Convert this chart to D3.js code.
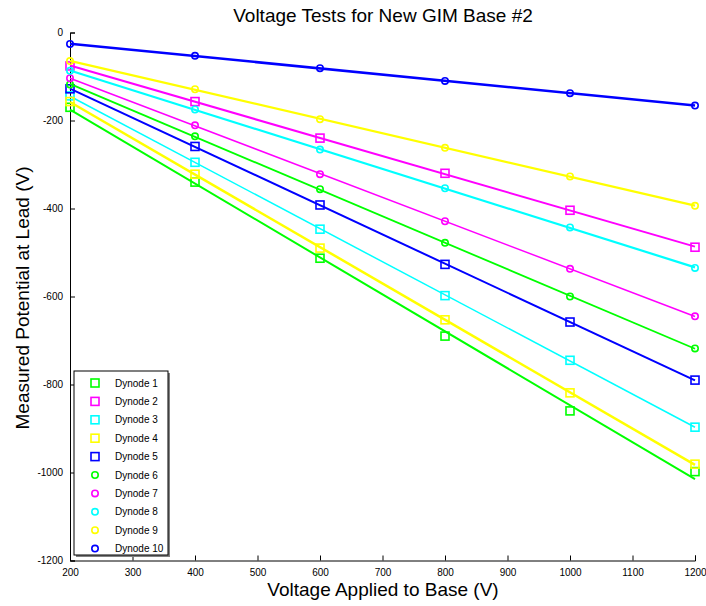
<!DOCTYPE html>
<html>
<head>
<meta charset="utf-8">
<script src="https://cdn.jsdelivr.net/npm/d3@7"></script>
<style>
  html, body { margin: 0; padding: 0; background: #fff; }
  svg { display: block; font-family: "Liberation Sans", Arial, sans-serif; }
</style>
</head>
<body>
<svg id="chart" width="706" height="606"></svg>
<script>
// Base voltages applied (V)
const baseVoltages = [200, 400, 600, 800, 1000, 1200];

// Series names
const dynodeNames = ["Dynode 1", "Dynode 2", "Dynode 3", "Dynode 4", "Dynode 5",
                     "Dynode 6", "Dynode 7", "Dynode 8", "Dynode 9", "Dynode 10"];

// Measured potential at lead (V), one array per dynode
const dynode1  = [-170, -340, -513, -690, -860, -998];
const dynode2  = [-76, -157, -240, -320, -404, -488];
const dynode3  = [-144, -295, -447, -598, -745, -897];
const dynode4  = [-157, -322, -490, -653, -819, -981];
const dynode5  = [-128, -259, -392, -527, -658, -790];
const dynode6  = [-118, -236, -356, -478, -600, -718];
const dynode7  = [-104, -211, -322, -429, -537, -645];
const dynode8  = [-87, -175, -266, -354, -443, -535];
const dynode9  = [-65, -129, -197, -262, -327, -394];
const dynode10 = [-26, -53, -81, -110, -138, -166];

const seriesValues = [dynode1, dynode2, dynode3, dynode4, dynode5,
                      dynode6, dynode7, dynode8, dynode9, dynode10];

// Tick labels
const xTickValues = [200, 300, 400, 500, 600, 700, 800, 900, 1000, 1100, 1200];
const yTickValues = [0, -200, -400, -600, -800, -1000, -1200];
const yTickLabels = ["0", "-200", "-400", "-600", "-800", "-1000", "-1200"];

// Styles
const colors  = ["#00ff00", "#ff00ff", "#00ffff", "#ffff00", "#0000ff",
                 "#00ff00", "#ff00ff", "#00ffff", "#ffff00", "#0000ff"];
const markers = ["square", "square", "square", "square", "square",
                 "circle", "circle", "circle", "circle", "circle"];
const lineWidths = [2, 2, 1.5, 2.5, 2, 1.8, 1.5, 2.2, 2.2, 2.5];

const svg = d3.select("#chart");

const x = d3.scaleLinear().domain([200, 1200]).range([70, 695]);
const y = d3.scaleLinear().domain([-1200, 0]).range([560.5, 32.5]);

// Axes: inward ticks, left and bottom only
const xAxis = d3.axisBottom(x).tickValues(xTickValues).tickSize(-5).tickPadding(8)
  .tickFormat(d3.format("d"));
const yAxis = d3.axisLeft(y).tickValues(yTickValues).tickSize(-5).tickPadding(7)
  .tickFormat((d, i) => yTickLabels[i]);

const gx = svg.append("g").attr("transform", `translate(0,${y(-1200)})`).call(xAxis);
const gy = svg.append("g").attr("transform", `translate(${x(200)},0)`).call(yAxis);
[gx, gy].forEach(g => {
  g.select(".domain").attr("stroke", "#000").attr("stroke-width", 1);
  g.selectAll(".tick line").attr("stroke", "#000");
  g.selectAll(".tick text").attr("fill", "#000")
    .style("font-family", "'Liberation Sans', Arial, sans-serif").style("font-size", "10px");
});

// Least-squares line through each dynode's points
function fitLine(xs, ys) {
  const mx = d3.mean(xs), my = d3.mean(ys);
  let sxy = 0, sxx = 0;
  xs.forEach((xv, i) => { sxy += (xv - mx) * (ys[i] - my); sxx += (xv - mx) ** 2; });
  const slope = sxy / sxx;
  return v => my + slope * (v - mx);
}

const plot = svg.append("g");
const line = d3.line().x(d => x(d[0])).y(d => y(d[1]));

seriesValues.forEach((vals, si) => {
  const f = fitLine(baseVoltages, vals);
  const ends = [200, 1200].map(v => [v, f(v)]);
  plot.append("path")
    .attr("d", line(ends))
    .attr("fill", "none")
    .attr("stroke", colors[si])
    .attr("stroke-width", lineWidths[si]);

  const g = plot.append("g");
  vals.forEach((v, i) => {
    drawMarker(g, markers[si], x(baseVoltages[i]), y(v), colors[si]);
  });
});

function drawMarker(g, type, cx, cy, color) {
  if (type === "square") {
    g.append("rect")
      .attr("x", cx - 4).attr("y", cy - 4)
      .attr("width", 8).attr("height", 8)
      .attr("fill", "none").attr("stroke", color).attr("stroke-width", 1.6);
  } else {
    g.append("circle")
      .attr("cx", cx).attr("cy", cy).attr("r", 3.2)
      .attr("fill", "none").attr("stroke", color).attr("stroke-width", 1.6);
  }
}

// Title and axis labels
svg.append("text")
  .attr("x", 383).attr("y", 22)
  .attr("text-anchor", "middle")
  .style("font-size", "19px")
  .text("Voltage Tests for New GIM Base #2");

svg.append("text")
  .attr("x", 383).attr("y", 596)
  .attr("text-anchor", "middle")
  .style("font-size", "19px")
  .text("Voltage Applied to Base (V)");

svg.append("text")
  .attr("transform", "translate(29,298) rotate(-90)")
  .attr("text-anchor", "middle")
  .style("font-size", "19px")
  .text("Measured Potential at Lead (V)");

// Legend
const legend = svg.append("g");
const lx = 74, ly = 371, lw = 94, lh = 184;
legend.append("rect")
  .attr("x", lx + 2).attr("y", ly + 2).attr("width", lw).attr("height", lh)
  .attr("fill", "#808080");
legend.append("rect")
  .attr("x", lx).attr("y", ly).attr("width", lw).attr("height", lh)
  .attr("fill", "#fff").attr("stroke", "#000").attr("stroke-width", 1);

dynodeNames.forEach((name, i) => {
  const cy = 383 + i * 18.4;
  drawMarker(legend, markers[i], 95, cy, colors[i]);
  legend.append("text")
    .attr("x", 115).attr("y", cy + 3.5)
    .style("font-size", "10px")
    .text(name);
});
</script>
</body>
</html>
